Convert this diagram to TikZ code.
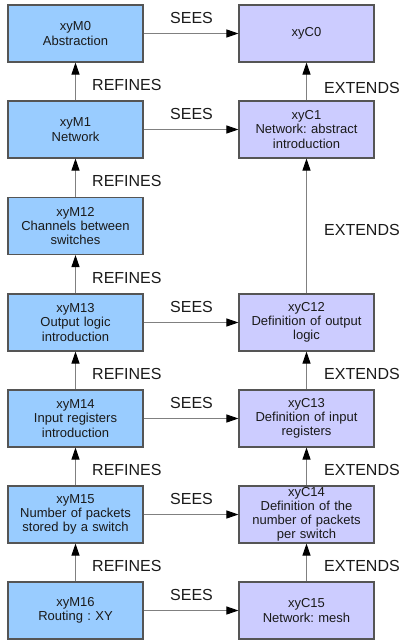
\documentclass[tikz,border=0pt]{standalone}
\usepackage{fontspec}
\setmainfont{Liberation Sans}
\usetikzlibrary{arrows.meta}
\definecolor{mfill}{HTML}{99CCFF}
\definecolor{cfill}{HTML}{CCCCFF}
\definecolor{bord}{HTML}{555555}
\definecolor{conn}{HTML}{808080}
\definecolor{txt}{HTML}{1A1A1A}
\frenchspacing
\begin{document}
\frenchspacing
\begin{tikzpicture}[x=1pt,y=-1pt,
  box/.style={draw=bord,line width=1.1pt,minimum width=135pt,minimum height=57pt,
    text width=130pt,align=center,inner sep=0pt,text=txt,
    font=\fontsize{13}{14.2}\selectfont},
  mbox/.style={box,fill=mfill},
  cbox/.style={box,fill=cfill},
  lab/.style={anchor=west,inner sep=0pt,text=txt,font=\fontsize{16}{18}\selectfont},
  conn/.style={draw=conn,line width=1pt,-{Triangle[width=8pt,length=12pt,color=black]}}]
\useasboundingbox (0,0) rectangle (399,644);
% left column
\node[mbox] (m0) at (75.5,33.5) {xyM0\\Abstraction};
\node[mbox] (m1) at (75.5,129.5) {xyM1\\Network};
\node[mbox] (m12) at (75.5,226) {xyM12\\Channels between\\switches};
\node[mbox] (m13) at (75.5,322.5) {xyM13\\Output logic\\introduction};
\node[mbox] (m14) at (75.5,418.5) {xyM14\\Input registers\\introduction};
\node[mbox] (m15) at (75.5,514.5) {xyM15\\Number of packets\\stored by a switch};
\node[mbox] (m16) at (75.5,610.5) {xyM16\\Routing : XY};
% right column
\node[cbox] (c0) at (306.5,33.5) {xyC0};
\node[cbox] (c1) at (306.5,129.5) {xyC1\\Network: abstract\\introduction};
\node[cbox] (c12) at (306.5,322.5) {xyC12\\Definition of output\\logic};
\node[cbox] (c13) at (306.5,418.5) {xyC13\\Definition of input\\registers};
\node[cbox] (c14) at (306.5,514.5) {xyC14\\Definition of the\\number of packets\\per switch};
\node[cbox] (c15) at (306.5,610.5) {xyC15\\Network: mesh};
% refines
\draw[conn] (m1) -- (m0);
\draw[conn] (m12) -- (m1);
\draw[conn] (m13) -- (m12);
\draw[conn] (m14) -- (m13);
\draw[conn] (m15) -- (m14);
\draw[conn] (m16) -- (m15);
% extends
\draw[conn] (c1) -- (c0);
\draw[conn] (c12) -- (c1);
\draw[conn] (c13) -- (c12);
\draw[conn] (c14) -- (c13);
\draw[conn] (c15) -- (c14);
% sees
\draw[conn] (m0) -- (c0);
\draw[conn] (m1) -- (c1);
\draw[conn] (m13) -- (c12);
\draw[conn] (m14) -- (c13);
\draw[conn] (m15) -- (c14);
\draw[conn] (m16) -- (c15);
% labels
\foreach \y/\n in {85/r1,181/r2,278/r3,374/r4,470/r5,566/r6}
  \node[lab] (\n) at (92,\y) {REFINES};
\foreach \y/\n in {88/e1,230/e2,374/e3,470/e4,566/e5}
  \node[lab] (\n) at (324,\y) {EXTENDS};
\foreach \y/\n in {18/s1,114/s2,307/s3,403/s4,499/s5,595/s6}
  \node[lab] (\n) at (170,\y) {SEES};
\end{tikzpicture}
\end{document}
